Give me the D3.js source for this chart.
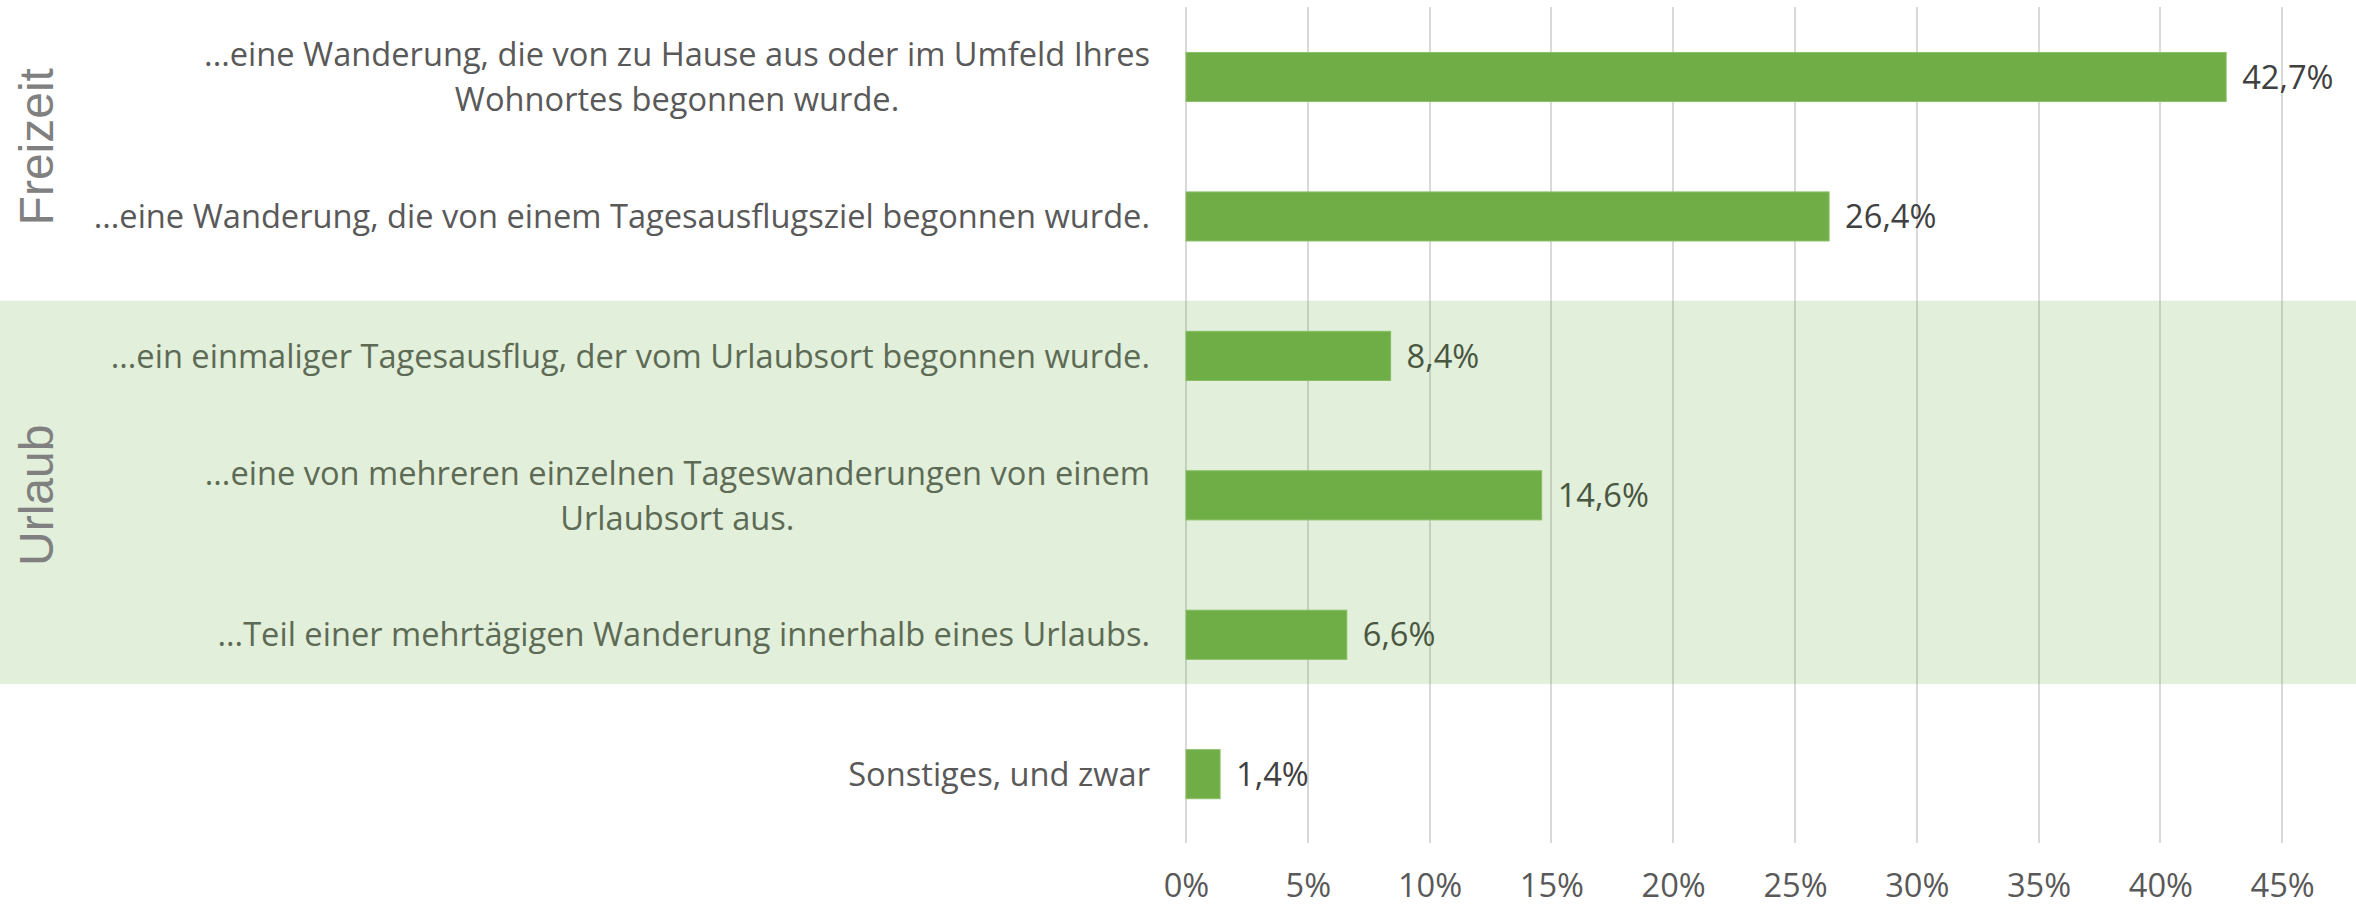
<!DOCTYPE html>
<html><head><meta charset="utf-8">
<script src="https://cdn.jsdelivr.net/npm/d3@7"></script>
<style>body{margin:0;background:#fff;overflow:hidden} svg{display:block}</style>
</head><body>
<svg id="chart" width="2356" height="906"></svg>
<script>
// ---- data ----
const categories = [
  "...eine Wanderung, die von zu Hause aus oder im Umfeld Ihres\nWohnortes begonnen wurde.",
  "...eine Wanderung, die von einem Tagesausflugsziel begonnen wurde.",
  "...ein einmaliger Tagesausflug, der vom Urlaubsort begonnen wurde.",
  "...eine von mehreren einzelnen Tageswanderungen von einem\nUrlaubsort aus.",
  "...Teil einer mehrtägigen Wanderung innerhalb eines Urlaubs.",
  "Sonstiges, und zwar"
];
const values = [0.427, 0.264, 0.084, 0.146, 0.066, 0.014];
const tickValues = [0, 0.05, 0.10, 0.15, 0.20, 0.25, 0.30, 0.35, 0.40, 0.45];
const groupNames = ["Freizeit", "Urlaub"];
const groupFirst = [0, 2];
const groupLast = [1, 4];
const groupHighlighted = [false, true];

// ---- layout ----
const W = 2356, H = 906;
const svg = d3.select("#chart");
const FONT = "'Open Sans', 'Noto Sans', sans-serif";
const locale = d3.formatLocale({decimal: ",", thousands: ".", grouping: [3], currency: ["", " €"]});
const fmtVal = locale.format(".1%");
const fmtTick = locale.format(".0%");

const x = d3.scaleLinear().domain([0, 0.5]).range([1186, 2404]);
const y = d3.scaleBand().domain(categories).range([7.3, 843.9]).paddingInner(0.648).paddingOuter(0.324);

// fit font size
const probe = svg.append("text").attr("font-family", FONT).attr("font-size", 30).text(categories[1]);
const measured = probe.node().getComputedTextLength();
probe.remove();
const fs = 30 * 1057 / measured;

// gridlines
svg.append("g").selectAll("line").data(tickValues).join("line")
  .attr("x1", d => Math.round(x(d))).attr("x2", d => Math.round(x(d)))
  .attr("y1", 7).attr("y2", 843)
  .attr("stroke", "#d9d9d9").attr("stroke-width", 2);

// x axis tick labels
const xAxis = d3.axisBottom(x).tickValues(tickValues).tickFormat(fmtTick).tickSize(0).tickPadding(0);
const gx = svg.append("g").attr("transform", "translate(0,843)").call(xAxis);
gx.select(".domain").remove();
gx.selectAll("text").attr("font-family", FONT).attr("font-size", fs).attr("fill", "#595959")
  .attr("dy", null).attr("y", 54);

// bars
svg.append("g").selectAll("rect").data(values).join("rect")
  .attr("x", x(0))
  .attr("y", (d, i) => y(categories[i]))
  .attr("width", d => x(d) - x(0))
  .attr("height", y.bandwidth())
  .attr("fill", "#70ad47")
  .attr("stroke", "#8cc068").attr("stroke-width", 1);

// value labels
svg.append("g").selectAll("text").data(values).join("text")
  .attr("x", d => x(d) + 16)
  .attr("y", (d, i) => y(categories[i]) + y.bandwidth() / 2)
  .attr("dy", "0.36em")
  .attr("font-family", FONT).attr("font-size", fs).attr("fill", "#404040")
  .text(d => fmtVal(d));

// category labels (right aligned block, lines centered)
const labelRight = 1150, lineH = 45;
categories.forEach(c => {
  const lines = c.split("\n");
  const cy = y(c) + y.bandwidth() / 2;
  const g = svg.append("g");
  const ts = lines.map((ln, k) => g.append("text")
    .attr("font-family", FONT).attr("font-size", fs).attr("fill", "#595959")
    .attr("y", cy + (k - (lines.length - 1) / 2) * lineH)
    .attr("dy", "0.36em").text(ln));
  const widths = ts.map(t => t.node().getComputedTextLength());
  const maxW = d3.max(widths);
  ts.forEach(t => t.attr("text-anchor", "middle").attr("x", labelRight - maxW / 2));
});

// highlighted group band (semi-transparent overlay)
groupNames.forEach((name, gi) => {
  if (!groupHighlighted[gi]) return;
  const top = y(categories[groupFirst[gi]]) - y.step() * 0.22;
  const bottom = y(categories[groupLast[gi]]) + y.bandwidth() + y.step() * 0.177;
  svg.append("rect").attr("x", 0).attr("y", top).attr("width", W).attr("height", bottom - top)
    .attr("fill", "rgb(112,173,71)").attr("fill-opacity", 0.2);
});

// group labels
groupNames.forEach((name, gi) => {
  const cy = (y(categories[groupFirst[gi]]) + y(categories[groupLast[gi]])) / 2 + y.bandwidth() / 2;
  svg.append("text")
    .attr("transform", `translate(53,${cy}) rotate(-90)`)
    .attr("text-anchor", "middle")
    .attr("font-family", "'Liberation Sans', Arial, sans-serif")
    .attr("font-size", 48).attr("fill", "#808080")
    .text(name);
});
</script>
</body></html>
